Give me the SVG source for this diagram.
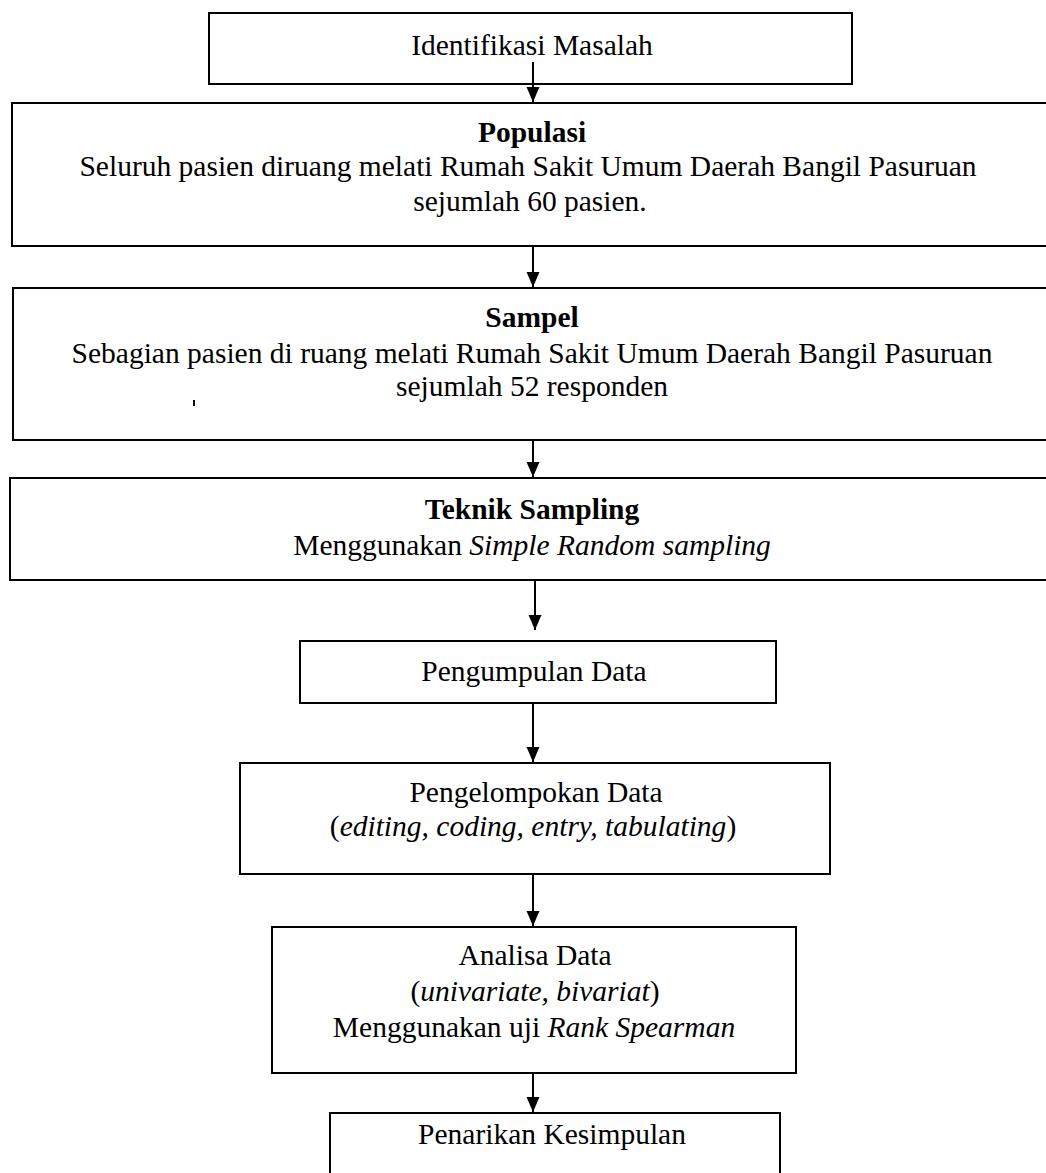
<svg xmlns="http://www.w3.org/2000/svg" width="1046" height="1173" viewBox="0 0 1046 1173">
<style>
.box{fill:#fff;stroke:#000;stroke-width:2}
.t{font-family:"Liberation Serif","Times New Roman",serif;font-size:29.5px;fill:#000;text-anchor:middle}
.b{font-weight:bold}
.i{font-style:italic}
.c{stroke:#000;stroke-width:2;fill:none}
</style>
<defs>
<marker id="ah" markerUnits="userSpaceOnUse" markerWidth="16" markerHeight="14" refX="15" refY="7" orient="auto" viewBox="0 0 16 14">
<path d="M0,0.5 L15,7 L0,13.5 Z" fill="#000"/>
</marker>
</defs>
<rect width="1046" height="1173" fill="#fff"/>
<g id="n1"><rect class="box" x="209" y="13" width="643" height="71"/><text class="t" x="532" y="55">Identifikasi Masalah</text></g>
<g id="n2"><rect class="box" x="12" y="103" width="1050" height="143"/>
<text class="t b" x="532" y="142">Populasi</text>
<text class="t" x="528" y="176">Seluruh pasien diruang melati Rumah Sakit Umum Daerah Bangil Pasuruan</text>
<text class="t" x="530" y="211">sejumlah 60 pasien.</text></g>
<g id="n3"><rect class="box" x="13" y="288" width="1050" height="152"/>
<text class="t b" x="532" y="327">Sampel</text>
<text class="t" x="532" y="363">Sebagian pasien di ruang melati Rumah Sakit Umum Daerah Bangil Pasuruan</text>
<text class="t" x="532" y="396">sejumlah 52 responden</text>
<line x1="194" y1="400" x2="194" y2="406" stroke="#000" stroke-width="2"/></g>
<g id="n4"><rect class="box" x="10" y="478" width="1050" height="102"/>
<text class="t b" x="532" y="519">Teknik Sampling</text>
<text class="t" x="532" y="555">Menggunakan <tspan class="i">Simple Random sampling</tspan></text></g>
<g id="n5"><rect class="box" x="300" y="641" width="476" height="62"/>
<text class="t" x="534" y="681">Pengumpulan Data</text></g>
<g id="n6"><rect class="box" x="240" y="763" width="590" height="111"/>
<text class="t" x="536" y="802">Pengelompokan Data</text>
<text class="t" x="533" y="836">(<tspan class="i">editing, coding, entry, tabulating</tspan>)</text></g>
<g id="n7"><rect class="box" x="272" y="927" width="524" height="146"/>
<text class="t" x="535" y="965">Analisa Data</text>
<text class="t" x="535" y="1001">(<tspan class="i">univariate, bivariat</tspan>)</text>
<text class="t" x="534" y="1037">Menggunakan uji <tspan class="i">Rank Spearman</tspan></text></g>
<g id="n8"><rect class="box" x="330" y="1113" width="450" height="100"/>
<text class="t" x="552" y="1144">Penarikan Kesimpulan</text></g>
<g id="connectors">
<line class="c" x1="533" y1="62" x2="533" y2="102" marker-end="url(#ah)"/>
<line class="c" x1="533" y1="247" x2="533" y2="287" marker-end="url(#ah)"/>
<line class="c" x1="533" y1="441" x2="533" y2="477" marker-end="url(#ah)"/>
<line class="c" x1="535" y1="581" x2="535" y2="630" marker-end="url(#ah)"/>
<line class="c" x1="533" y1="704" x2="533" y2="762" marker-end="url(#ah)"/>
<line class="c" x1="533" y1="875" x2="533" y2="926" marker-end="url(#ah)"/>
<line class="c" x1="533" y1="1074" x2="533" y2="1112" marker-end="url(#ah)"/>
</g>
</svg>
